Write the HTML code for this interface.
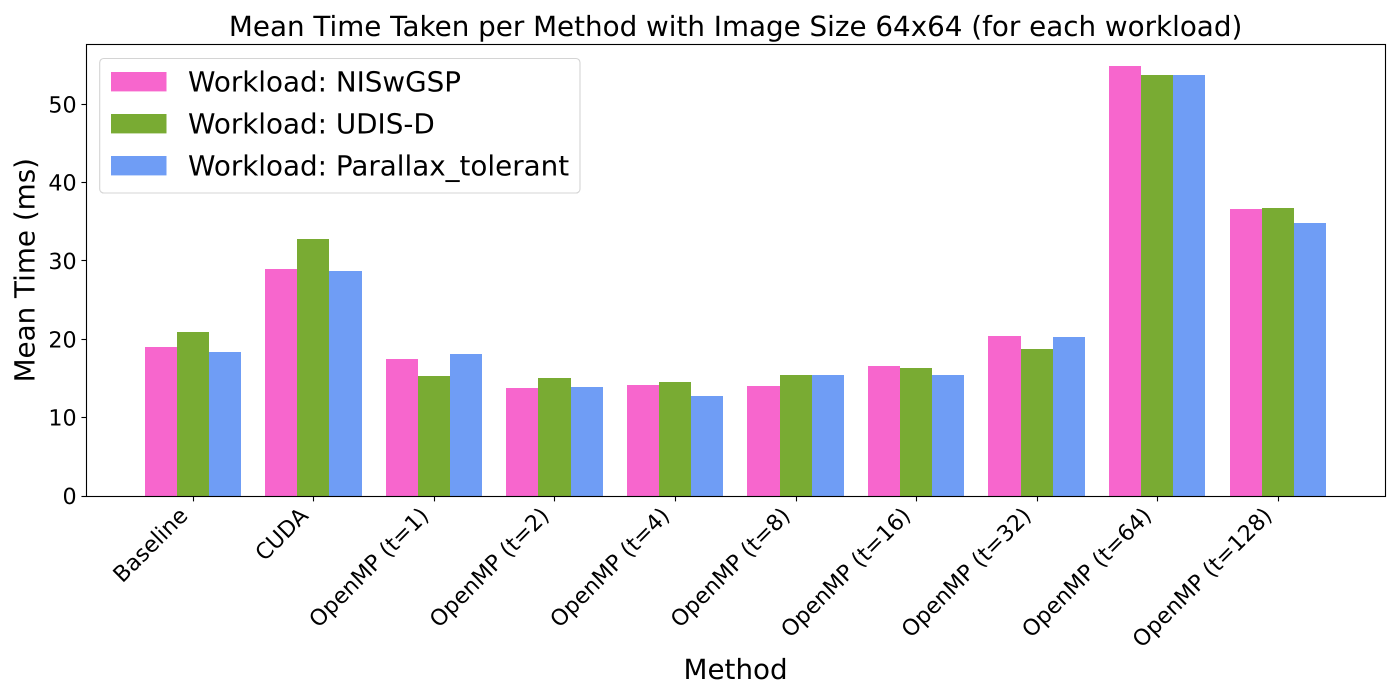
<!DOCTYPE html>
<html lang="en">
<head>
<meta charset="utf-8">
<title>Mean Time Taken per Method</title>
<style>
html,body{margin:0;padding:0;background:#fff;width:1400px;height:700px;overflow:hidden}
svg{display:block;font-family:"DejaVu Sans","Liberation Sans",sans-serif;text-rendering:geometricPrecision}
text{fill:#000}
</style>
</head>
<body>
<svg id="chart" xmlns="http://www.w3.org/2000/svg" width="1400" height="700" viewBox="0 0 1400 700">
  <rect x="0" y="0" width="1400" height="700" fill="#fff"/>
  <text x="735.6" y="36" font-size="27.78" text-anchor="middle">Mean Time Taken per Method with Image Size 64x64 (for each workload)</text>
  <text x="735.6" y="679" font-size="27.78" text-anchor="middle">Method</text>
  <text transform="translate(34.5 270.2) rotate(-90)" font-size="27.78" text-anchor="middle">Mean Time (ms)</text>
  <g id="bars"></g>
  <g id="axes"></g>
  <g id="legend"></g>
</svg>
<script>
const categories = ["Baseline","CUDA","OpenMP (t=1)","OpenMP (t=2)","OpenMP (t=4)","OpenMP (t=8)","OpenMP (t=16)","OpenMP (t=32)","OpenMP (t=64)","OpenMP (t=128)"];
const seriesNames = ["Workload: NISwGSP","Workload: UDIS-D","Workload: Parallax_tolerant"];
const niswgspValues = [19.0,29.0,17.5,13.8,14.2,14.0,16.6,20.4,54.9,36.6];
const udisdValues = [20.9,32.8,15.3,15.05,14.5,15.4,16.3,18.8,53.7,36.75];
const parallaxValues = [18.35,28.7,18.1,13.9,12.75,15.4,15.4,20.3,53.7,34.85];
const yTicks = [0,10,20,30,40,50];

const NS = "http://www.w3.org/2000/svg";
const plot = {left:86.3,right:1385,top:44.3,bottom:496};
const seriesValues = [niswgspValues,udisdValues,parallaxValues];
const seriesColors = ["#f766cd","#79ab33","#6f9df5"];
const seriesKeys = ["niswgsp","udis-d","parallax-tolerant"];
const barWidth = 0.8/3;
const xMin = -0.4-0.49;
const xMax = categories.length-1+0.4+0.49;
const yMax = Math.max(...seriesValues.flat())*1.05;

function xScale(v){return plot.left+(v-xMin)/(xMax-xMin)*(plot.right-plot.left);}
function yScale(v){return plot.bottom-v/yMax*(plot.bottom-plot.top);}
function snapX(v){const x=xScale(v);return Math.floor(x-0.06+0.00053*(x-330));}
function make(tag,attrs,parent){
  const el=document.createElementNS(NS,tag);
  for(const k in attrs){el.setAttribute(k,attrs[k]);}
  parent.appendChild(el);
  return el;
}

const barsG=document.getElementById("bars");
seriesValues.forEach((vals,s)=>{
  vals.forEach((v,i)=>{
    const x0=snapX(i+(s-1)*barWidth-barWidth/2);
    const x1=snapX(i+(s-1)*barWidth+barWidth/2);
    const top=Math.round(yScale(v));
    const r=make("rect",{x:x0,y:top,width:x1-x0,height:plot.bottom-top,fill:seriesColors[s]},barsG);
    
    
  });
});

const axesG=document.getElementById("axes");
yTicks.forEach(t=>{
  const y=yScale(t);
  const ys=Math.floor(y)+0.5;
  const tick=make("line",{x1:plot.left-4.86,x2:plot.left,y1:ys,y2:ys,stroke:"#000","stroke-width":1.11},axesG);
  
  
  const lab=make("text",{x:plot.left-9.7,y:y+8.1,"font-size":22.22,"text-anchor":"end"},axesG);
  
  
  lab.textContent=t;
});
categories.forEach((c,i)=>{
  const x=xScale(i);
  const xs=snapX(i)+0.5;
  const tick=make("line",{x1:xs,x2:xs,y1:plot.bottom,y2:plot.bottom+5.4,stroke:"#000","stroke-width":1.11},axesG);
  
  
  const ax=x-4.5, ay=plot.bottom+21;
  const lab=make("text",{x:0,y:0,"font-size":22.22,"text-anchor":"end",transform:"translate("+ax+" "+ay+") rotate(-45)"},axesG);
  
  
  lab.textContent=c;
});
const spine=make("rect",{x:86.5,y:44.5,width:1299,height:452,fill:"none",stroke:"#000","stroke-width":1.11},axesG);



const legendG=document.getElementById("legend");
const box=make("rect",{x:99.7,y:58.5,width:480.3,height:134.5,rx:4,ry:4,fill:"#fff","fill-opacity":0.8,stroke:"#d4d4d4","stroke-width":1.11},legendG);


seriesNames.forEach((n,s)=>{
  const y=72+s*42;
  const sw=make("rect",{x:111,y:y,width:55.5,height:19.4,fill:seriesColors[s]},legendG);
  
  
  const t=make("text",{x:188,y:y+19.4,"font-size":27.78},legendG);
  
  
  t.textContent=n;
});
</script>
</body>
</html>
